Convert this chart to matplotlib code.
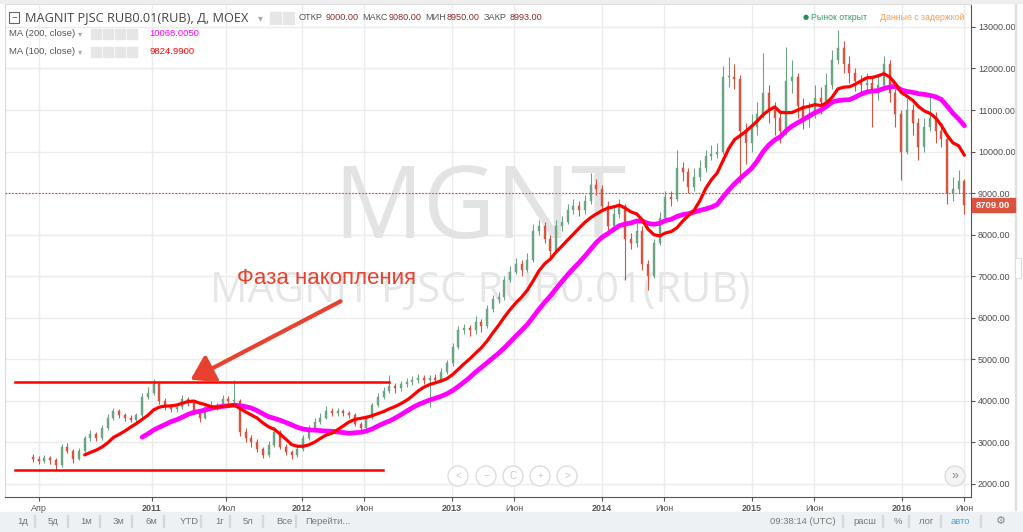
import numpy as np
import pandas as pd
import matplotlib
matplotlib.use("Agg")
import matplotlib.pyplot as plt
import matplotlib.dates as mdates
from matplotlib.patches import Rectangle, Ellipse, FancyArrowPatch

plt.rcParams['font.family'] = ['Liberation Sans', 'DejaVu Sans']
WIDE = ['Open Sans', 'DejaVu Sans']

# Bi-weekly candles (MGNT, Mar 2010 - Jun 2016)
close = [2600, 2550, 2620, 2580, 2450, 2900, 2800, 2600, 2800, 3100,
         3200, 3100, 3350, 3600, 3750, 3650, 3600, 3550, 3650, 4100,
         4200, 4400, 4000, 3850, 3800, 3850, 4050, 3950, 3750, 3600,
         3850, 3900, 3850, 4050, 4000, 4000, 3250, 3100, 3000, 2850,
         2700, 2950, 3250, 2900, 2780, 2700, 2850, 3100, 3350, 3500,
         3600, 3750, 3700, 3750, 3700, 3650, 3450, 3350, 3600, 3900,
         4100, 4250, 4350, 4300, 4400, 4450, 4500, 4550, 4500, 4550,
         4500, 4700, 4900, 5300, 5700, 5750, 5700, 5900, 5800, 6200,
         6450, 6500, 6900, 7100, 7300, 7150, 7400, 8100, 8200, 7900,
         7600, 8200, 8300, 8600, 8700, 8600, 8800, 9200, 9100, 8700,
         8200, 8500, 8700, 7900, 7800, 8100, 7300, 7000, 7800, 8400,
         8900, 8850, 9600, 9500, 9150, 9400, 9600, 9900, 9950, 10000,
         11800, 11800, 11750, 10500, 10200, 10600, 10900, 11400, 11000, 10800,
         10500, 11700, 11800, 11100, 10800, 10900, 11300, 11200, 11600, 12200,
         12500, 12100, 11900, 11700, 11600, 11650, 11400, 11600, 12100, 11400,
         10900, 10000, 11000, 10700, 10100, 10600, 10800, 10500, 10300, 9000,
         9100, 9300, 8709]

high = [2720, 2680, 2700, 2680, 2620, 2960, 2980, 2850, 2860, 3150,
        3300, 3260, 3420, 3680, 3830, 3800, 3720, 3660, 3720, 4180,
        4330, 4530, 4450, 4060, 3920, 3950, 4130, 4100, 3990, 3800,
        3920, 3990, 3960, 4130, 4120, 4500, 4050, 3350, 3180, 3080,
        2900, 3030, 3370, 3300, 2960, 2830, 2920, 3180, 3430, 3580,
        3700, 3880, 3820, 3830, 3800, 3760, 3700, 3500, 3660, 3960,
        4180, 4330, 4620, 4420, 4480, 4560, 4600, 4650, 4620, 4620,
        4640, 4790, 4980, 5400, 5800, 5850, 5830, 6050, 5980, 6300,
        6550, 6620, 7000, 7250, 7450, 7400, 7550, 8250, 8350, 8300,
        8000, 8350, 8450, 8750, 8850, 8800, 8950, 9480, 9350, 9200,
        8800, 8650, 8850, 8750, 8050, 8300, 8200, 7400, 7900, 8550,
        9050, 9050, 10040, 9750, 9600, 9600, 9800, 10050, 10150, 10200,
        12050, 12280, 12100, 11850, 10700, 10900, 11200, 12370, 11600, 11200,
        10950, 12520, 12200, 11900, 11300, 11200, 11600, 11550, 11900, 12450,
        12930, 12650, 12300, 12000, 11850, 11900, 11800, 11850, 12300, 12200,
        11500, 11000, 11300, 11150, 10800, 10800, 11410, 10950, 10700, 10400,
        9400, 9550, 9350]

low = [2520, 2480, 2500, 2490, 2340, 2420, 2740, 2500, 2570, 2760,
       3040, 3040, 3070, 3300, 3550, 3580, 3520, 3480, 3500, 3620,
       4050, 4150, 3930, 3780, 3740, 3730, 3800, 3880, 3680, 3490,
       3560, 3800, 3780, 3820, 3930, 3900, 3150, 3000, 2900, 2760,
       2620, 2660, 2900, 2840, 2700, 2600, 2660, 2800, 3060, 3300,
       3440, 3560, 3630, 3640, 3630, 3580, 3390, 3280, 3300, 3560,
       3850, 4050, 4200, 4200, 4230, 4330, 4380, 4420, 4400, 3850,
       4420, 4450, 4640, 4850, 5250, 5600, 5550, 5620, 5650, 5750,
       6150, 6350, 6420, 6850, 7050, 7000, 7100, 7350, 8000, 7800,
       7450, 7550, 8100, 8250, 8500, 8450, 8500, 8750, 8950, 8600,
       8050, 8100, 8400, 6910, 7650, 7700, 7150, 6670, 6950, 7750,
       8350, 8700, 8800, 9300, 9000, 9050, 9300, 9500, 9800, 9850,
       9950, 11550, 11500, 9240, 9700, 10000, 10400, 10800, 10700, 10400,
       10200, 10400, 11400, 10800, 10550, 10600, 10800, 10900, 11100, 11500,
       12100, 11900, 11650, 11450, 11350, 11400, 10590, 11250, 11500, 11200,
       10600, 9320, 9950, 10400, 9800, 10000, 10500, 10200, 10100, 8750,
       8800, 9000, 8500]

first_open = 2650
tick_dates = ["2010-04-01", "2011-01-01", "2011-07-01", "2012-01-01", "2012-06-01",
              "2013-01-01", "2013-06-01", "2014-01-01", "2014-06-01", "2015-01-01",
              "2015-06-01", "2016-01-01", "2016-06-01"]
tick_labels = ["Апр", "2011", "Июл", "2012", "Июн", "2013", "Июн", "2014", "Июн",
               "2015", "Июн", "2016", "Июн"]
price_ticks = list(range(2000, 14000, 1000))

df = pd.DataFrame({"close": close, "high": high, "low": low})
df["open"] = df["close"].shift(1).fillna(first_open)
df["date"] = pd.date_range("2010-03-17", periods=len(df), freq="14D")
df["ma100"] = df["close"].rolling(10).mean()
df["ma200"] = df["close"].rolling(20).mean()

W, H = 1023, 532
fig = plt.figure(figsize=(W / 100, H / 100), dpi=100)
fig.patch.set_facecolor("white")


def fx(x):
    return x / W


def fy(y):
    return 1 - y / H


ax = fig.add_axes([fx(5), fy(497), fx(971) - fx(5), fy(4) - fy(497)])
ax.set_facecolor("white")
ax.set_xlim(mdates.date2num(pd.Timestamp("2010-01-08")), mdates.date2num(pd.Timestamp("2016-06-17")))
ax.set_ylim(1687, 13552)

# grid
for d in tick_dates:
    ax.axvline(mdates.date2num(pd.Timestamp(d)), color="#ebebeb", lw=1, zorder=0)
for p in price_ticks:
    ax.axhline(p, color="#ebebeb", lw=1, zorder=0)

# watermark
xmid = mdates.date2num(pd.Timestamp("2013-03-10"))
ax.text(xmid, 8550, "MGNT", fontsize=72, color="#e3e3e3", ha="center", va="center",
        family=WIDE, zorder=1)
ax.text(xmid, 6650, "MAGNIT PJSC RUB0.01(RUB)", fontsize=30, color="#e6e6e6",
        ha="center", va="center", family=WIDE, zorder=1)

# candles
up = df["close"] >= df["open"]
colors = np.where(up, "#6ba583", "#d75442")
dn = mdates.date2num(df["date"])
ax.vlines(dn, df["low"], df["high"], colors=colors, lw=0.8, zorder=2)
ax.bar(dn, (df["close"] - df["open"]).abs().clip(lower=30), bottom=df[["open", "close"]].min(axis=1),
       width=5, color=colors, edgecolor=colors, lw=0.3, zorder=3)

# moving averages
ax.plot(dn, df["ma200"], color="#ff00ff", lw=3.4, zorder=4, solid_capstyle="round")
ax.plot(dn, df["ma100"], color="#ff0000", lw=2.3, zorder=5, solid_capstyle="round")

# last price dotted line
ax.axhline(9000, color="#e04040", lw=0.8, ls=(0, (1.5, 1.5)), zorder=5)

# accumulation channel drawing
t0 = mdates.date2num(pd.Timestamp("2010-02-01"))
ax.plot([t0, mdates.date2num(pd.Timestamp("2012-07-31"))], [4455, 4455], color="#ff0000", lw=1.8, zorder=6)
ax.plot([t0, mdates.date2num(pd.Timestamp("2012-07-16"))], [2337, 2337], color="#ff0000", lw=1.8, zorder=6)
arr = FancyArrowPatch((fx(343), fy(300)), (fx(188), fy(381)), transform=fig.transFigure,
                      arrowstyle="-|>,head_length=14,head_width=9", color="#e8412f", lw=3, zorder=7)
fig.add_artist(arr)
fig.text(fx(237), fy(279), "Фаза накопления", fontsize=16, color="#e8412f", va="center", ha="left")

# axes styling
for s in ["left", "top"]:
    ax.spines[s].set_color("#d9d9d9")
for s in ["right", "bottom"]:
    ax.spines[s].set_color("#555555")
ax.yaxis.tick_right()
ax.set_yticks(price_ticks)
ax.set_yticklabels([f"{p:.2f}" for p in price_ticks])
ax.tick_params(axis="y", length=3, width=0.8, color="#555555", labelsize=6.5, labelcolor="#4c4c4c", pad=2)
ax.set_xticks([mdates.date2num(pd.Timestamp(d)) for d in tick_dates])
ax.set_xticklabels(tick_labels)
ax.tick_params(axis="x", length=3, width=0.8, color="#555555", labelsize=6.5, labelcolor="#555555", pad=2)
for lbl in ax.get_xticklabels():
    if lbl.get_text().isdigit():
        lbl.set_fontweight("bold")

# last price label
fig.add_artist(Rectangle((fx(972), fy(212)), fx(43), fy(198) - fy(212), transform=fig.transFigure,
                         color="#d9533f", zorder=8))
fig.text(fx(993), fy(205), "8709.00", fontsize=6.8, color="white", weight="bold",
         ha="center", va="center", zorder=9)

# top strip
fig.add_artist(Rectangle((0, fy(3)), 1, fy(0) - fy(3), transform=fig.transFigure, color="#eeeeee"))

# header
fig.add_artist(Rectangle((fx(9), fy(23)), fx(10), fy(12) - fy(23), transform=fig.transFigure,
                         fill=False, ec="#666666", lw=0.8))
fig.text(fx(14), fy(17.5), "−", fontsize=7, color="#555555", ha="center", va="center")
fig.text(fx(25), fy(18), "MAGNIT PJSC RUB0.01(RUB), Д, MOEX", fontsize=9.2, color="#444444",
         va="center", family=WIDE)
fig.text(fx(258), fy(18), "▾", fontsize=7, color="#aaaaaa", va="center", family=['DejaVu Sans'])
for x in [270, 283]:
    fig.add_artist(Rectangle((fx(x), fy(24)), fx(11), fy(12) - fy(24), transform=fig.transFigure,
                             color="#e6e6e6"))
ohlc = [("ОТКР", "9000.00", 299, 326), ("МАКС", "9080.00", 362, 389),
        ("МИН", "8950.00", 425, 447), ("ЗАКР", "8993.00", 484, 510)]
for name, val, x, xv in ohlc:
    fig.text(fx(x), fy(18), name, fontsize=6.6, color="#555555", va="center")
    fig.text(fx(xv), fy(18), val, fontsize=6.6, color="#8b2a2a", va="center")

ma_rows = [("MA (200, close)", "10068.0050", "#ff00ff", 34), ("MA (100, close)", "9824.9900", "#ff0000", 52)]
for name, val, col, y in ma_rows:
    fig.text(fx(9), fy(y), name, fontsize=6.8, color="#555555", va="center")
    fig.text(fx(78), fy(y), "▾", fontsize=6, color="#aaaaaa", va="center", family=['DejaVu Sans'])
    for x in [91, 103, 115, 127]:
        fig.add_artist(Rectangle((fx(x), fy(y + 5)), fx(10), fy(y - 5) - fy(y + 5), transform=fig.transFigure,
                                 color="#e6e6e6"))
    fig.text(fx(149), fy(y), val, fontsize=6.8, color=col, va="center")

fig.text(fx(803), fy(17), "●", fontsize=5, color="#2e8b57", va="center", family=['DejaVu Sans'])
fig.text(fx(811), fy(17), "Рынок открыт", fontsize=6.3, color="#3a9a68", va="center")
fig.text(fx(880), fy(17), "Данные с задержкой", fontsize=6.3, color="#ff9a4a", va="center")

# navigation buttons
for x, s in zip([458, 486, 513, 540, 567], ["<", "−", "C", "+", ">"]):
    fig.add_artist(Ellipse((fx(x), fy(476)), fx(20), fy(466) - fy(486), transform=fig.transFigure,
                           fc="white", ec="#dddddd", lw=1, zorder=9))
    fig.text(fx(x), fy(476), s, fontsize=7, color="#c8c8c8", ha="center", va="center", zorder=10)
fig.add_artist(Ellipse((fx(955), fy(476)), fx(20), fy(466) - fy(486), transform=fig.transFigure,
                       fc="#f4f4f4", ec="#dddddd", lw=1, zorder=9))
fig.text(fx(955), fy(476), "»", fontsize=9, color="#888888", ha="center", va="center", zorder=10)

# bottom toolbar
fig.add_artist(Rectangle((0, 0), 1, fy(512), transform=fig.transFigure, color="#eef1f3", zorder=0))
for lbl, x in [("1д", 17), ("5д", 48), ("1м", 80), ("3м", 113), ("6м", 146), ("YTD", 180),
               ("1г", 215), ("5л", 243), ("Все", 276), ("Перейти...", 305)]:
    fig.text(fx(x), fy(521), lbl, fontsize=6.8, color="#777777", va="center")
for x in [34, 67, 99, 131, 163, 200, 229, 262, 295]:
    fig.add_artist(Rectangle((fx(x), fy(527)), fx(0.8), fy(515) - fy(527), transform=fig.transFigure,
                             color="#d6d9db"))
for lbl, x, col in [("09:38:14 (UTC)", 770, "#777777"), ("расш", 853, "#777777"), ("%", 894, "#777777"),
                    ("лог", 919, "#777777"), ("авто", 951, "#4aa3df")]:
    fig.text(fx(x), fy(521), lbl, fontsize=6.8, color=col, va="center")
fig.text(fx(996), fy(521), "⚙", fontsize=8, color="#888888", va="center", family=['DejaVu Sans'])
for x in [842, 882, 908, 940, 980]:
    fig.add_artist(Rectangle((fx(x), fy(527)), fx(0.8), fy(515) - fy(527), transform=fig.transFigure,
                             color="#d6d9db"))

# outer frame
fig.add_artist(Rectangle((fx(1015), fy(510)), fx(1), fy(4) - fy(510), transform=fig.transFigure, color="#e0e0e0"))
fig.add_artist(Rectangle((fx(1015), fy(278)), fx(6), fy(258) - fy(278), transform=fig.transFigure,
                         fc="white", ec="#dddddd", lw=0.8))

fig.savefig("out.png", dpi=100)
